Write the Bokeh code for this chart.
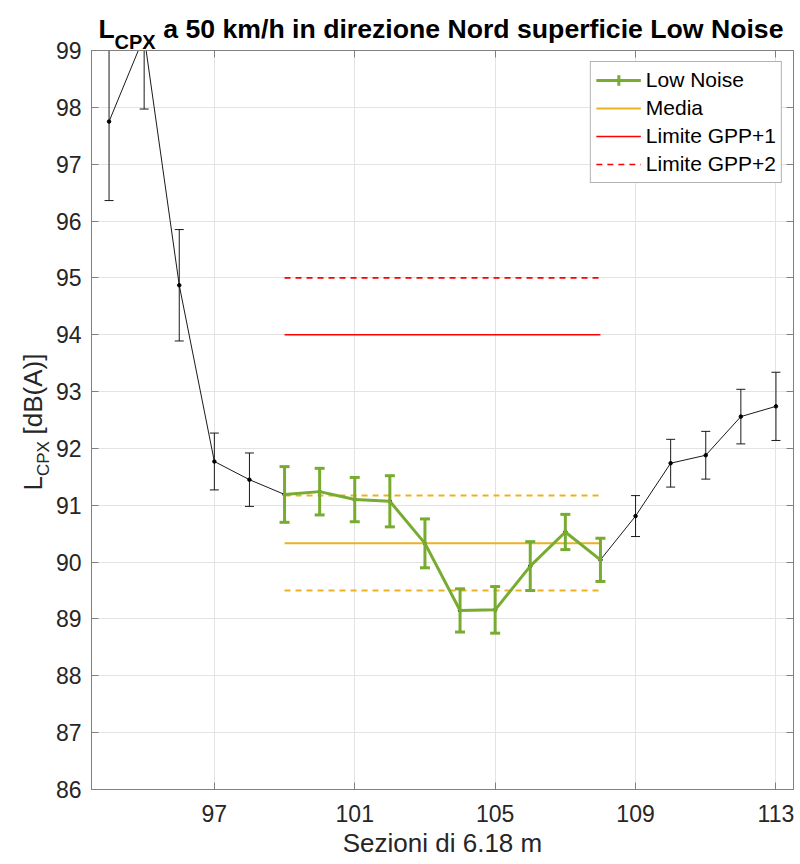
import numpy as np
from bokeh.plotting import figure
from bokeh.models import Range1d, LinearAxis, Legend, LegendItem, CustomJSTickFormatter
from bokeh.core.properties import value
from bokeh.embed import file_html
from bokeh.resources import INLINE

# ---------------- data ----------------
sezioni = [94, 95, 96, 97, 98, 99, 100, 101, 102, 103, 104, 105, 106, 107, 108,
           109, 110, 111, 112, 113]
lcpx = [97.75, 99.25, 94.87, 91.77, 91.45, 91.19, 91.24, 91.10, 91.07, 90.33,
        89.15, 89.16, 89.93, 90.53, 90.04, 90.81, 91.74, 91.88, 92.56, 92.74]
errore = [1.39, 1.28, 0.98, 0.50, 0.47, 0.49, 0.41, 0.39, 0.45, 0.43,
          0.38, 0.41, 0.43, 0.31, 0.38, 0.36, 0.42, 0.42, 0.48, 0.60]
ln_sezioni = [99, 100, 101, 102, 103, 104, 105, 106, 107, 108]
media = 90.33
media_sup = 91.17
media_inf = 89.50
limite_gpp1 = 94.0
limite_gpp2 = 95.0
x_ticks = [97, 101, 105, 109, 113]
y_ticks = [86, 87, 88, 89, 90, 91, 92, 93, 94, 95, 96, 97, 98, 99]

# ---------------- styles ----------------
FONT = "Liberation Sans"
GREEN = "#77AC30"
YELLOW = "#EDB120"
RED = "#FF0000"
BLACK = "#1a1a1a"
AXIS = "#808080"
TXT = "#262626"

X0, X1, Y0, Y1 = 93.5, 113.5, 86, 99
FW, FH, BL, BT = 702, 739, 91, 50

p = figure(frame_width=FW, frame_height=FH,
           x_range=Range1d(X0, X1), y_range=Range1d(Y0, Y1),
           output_backend="svg", toolbar_location=None, title=None,
           min_border_left=BL, min_border_top=BT, min_border_right=7,
           min_border_bottom=70)
p.outline_line_color = AXIS

for ax in (p.xaxis[0], p.yaxis[0]):
    ax.axis_line_color = AXIS
    ax.major_tick_line_color = AXIS
    ax.major_tick_in = 7
    ax.major_tick_out = 0
    ax.minor_tick_line_color = None
    ax.major_label_text_font = FONT
    ax.major_label_text_font_size = "23px"
    ax.major_label_text_color = TXT
p.xaxis.major_label_standoff = 15
p.yaxis.major_label_standoff = 10
p.xaxis.ticker = x_ticks
p.yaxis.ticker = y_ticks
p.xaxis.axis_label = "Sezioni di 6.18 m"
p.xaxis.axis_label_text_font = FONT
p.xaxis.axis_label_text_font_size = "26px"
p.xaxis.axis_label_text_font_style = "normal"
p.xaxis.axis_label_text_color = TXT
p.xaxis.axis_label_standoff = 3

empty = CustomJSTickFormatter(code="return ''")
for loc, tk in (("right", y_ticks), ("above", x_ticks)):
    p.add_layout(LinearAxis(ticker=tk, formatter=empty, major_tick_in=7,
                            major_tick_out=0, minor_tick_line_color=None,
                            axis_line_color=AXIS, major_tick_line_color=AXIS,
                            major_label_standoff=0), loc)
p.grid.grid_line_color = "#e3e3e3"

# ---------------- black series ----------------
lo = [v - e for v, e in zip(lcpx, errore)]
hi = [v + e for v, e in zip(lcpx, errore)]
bx = [x for x in sezioni if x not in ln_sezioni]
blo = [l for x, l in zip(sezioni, lo) if x not in ln_sezioni]
bhi = [h for x, h in zip(sezioni, hi) if x not in ln_sezioni]
p.segment(x0=bx, y0=blo, x1=bx, y1=bhi, line_color=BLACK, line_width=1)
p.scatter(x=bx, y=bhi, marker="dash", size=9, line_color=BLACK, line_width=1)
p.scatter(x=bx, y=blo, marker="dash", size=9, line_color=BLACK, line_width=1)
p.line(x=sezioni, y=lcpx, line_color=BLACK, line_width=1)
p.scatter(x=sezioni, y=lcpx, size=3.5, color="black")

# ---------------- reference lines ----------------
xs_lim = [ln_sezioni[0], ln_sezioni[-1]]
r_media = p.line(x=xs_lim, y=[media, media], line_color=YELLOW, line_width=2)
p.line(x=xs_lim, y=[media_sup, media_sup], line_color=YELLOW, line_width=2, line_dash="6 5")
p.line(x=xs_lim, y=[media_inf, media_inf], line_color=YELLOW, line_width=2, line_dash="6 5")
r_g1 = p.line(x=xs_lim, y=[limite_gpp1, limite_gpp1], line_color=RED, line_width=1.6)
r_g2 = p.line(x=xs_lim, y=[limite_gpp2, limite_gpp2], line_color=RED, line_width=1.6,
              line_dash="6 5")

# ---------------- green series ----------------
gy = [v for x, v in zip(sezioni, lcpx) if x in ln_sezioni]
glo = [l for x, l in zip(sezioni, lo) if x in ln_sezioni]
ghi = [h for x, h in zip(sezioni, hi) if x in ln_sezioni]
p.segment(x0=ln_sezioni, y0=glo, x1=ln_sezioni, y1=ghi, line_color=GREEN, line_width=3)
p.scatter(x=ln_sezioni, y=ghi, marker="dash", size=10, line_color=GREEN, line_width=3)
p.scatter(x=ln_sezioni, y=glo, marker="dash", size=10, line_color=GREEN, line_width=3)
r_green = p.line(x=ln_sezioni, y=gy, line_color=GREEN, line_width=3)
r_green_leg = p.scatter(x=np.array([np.nan]), y=np.array([np.nan]), marker="cross",
                        size=16, line_color=GREEN, line_width=3)

legend = Legend(items=[
    LegendItem(label="Low Noise", renderers=[r_green, r_green_leg]),
    LegendItem(label="Media", renderers=[r_media]),
    LegendItem(label="Limite GPP+1", renderers=[r_g1]),
    LegendItem(label="Limite GPP+2", renderers=[r_g2]),
], location="top_right", margin=11, padding=5, spacing=2, glyph_width=45,
   glyph_height=26, label_height=26, label_standoff=5, label_text_font=FONT,
   label_text_font_size="21px", label_text_color="black",
   border_line_color="#666666", background_fill_alpha=1)
p.add_layout(legend)

# ---------------- title / y label (text glyphs drawn above the frame clip) ----------------
def dx(px):
    return X0 + (px - BL) * (X1 - X0) / FW

def dy(py):
    return Y1 - (py - BT) * (Y1 - Y0) / FH

def txt(px, py, s, size, bold=False, angle=0.0, color="black", align="left"):
    p.text(x=[dx(px)], y=[dy(py)], text=[s], angle=angle,
           text_font=value(FONT), text_font_size=size,
           text_font_style="bold" if bold else "normal",
           text_color=color, text_align=align, text_baseline="alphabetic",
           level="overlay")

txt(98, 28, "L", "26.5px", bold=True)
txt(114, 41, "CPX", "20px", bold=True)
txt(783, 28, "a 50 km/h in direzione Nord superficie Low Noise", "26.65px",
    bold=True, align="right")

txt(32, 490, "L", "26px", angle=np.pi / 2, color=TXT)
txt(43, 475.5, "CPX", "17px", angle=np.pi / 2, color=TXT)
txt(32, 434, "[dB(A)]", "26px", angle=np.pi / 2, color=TXT)

open("out.html", "w").write(file_html(p, INLINE))
